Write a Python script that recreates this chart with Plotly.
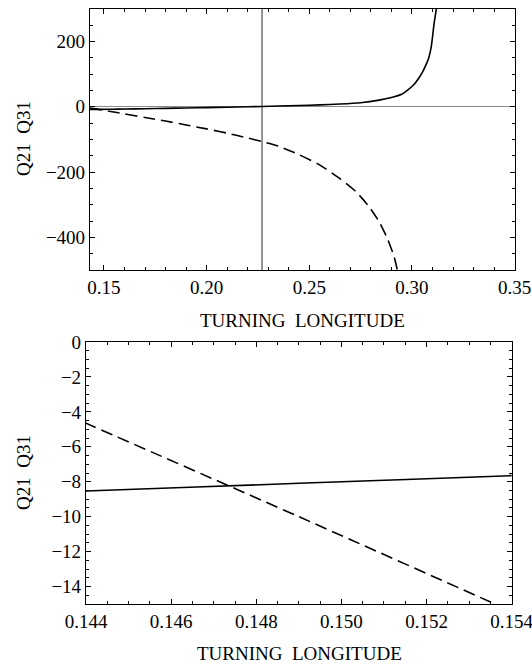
import plotly.graph_objects as go

# ---- data ----
x_q21 = [0.1432, 0.144, 0.149, 0.154, 0.16, 0.17, 0.18, 0.19, 0.20, 0.21, 0.22, 0.227,
         0.235, 0.245, 0.255, 0.265, 0.275, 0.284, 0.29, 0.295, 0.2985, 0.301, 0.3033,
         0.305, 0.3066, 0.3082, 0.3094, 0.3108, 0.3119, 0.3125]
q21 = [-8.6, -8.53, -8.09, -7.65, -7.1, -6.1, -5.1, -4.0, -2.8, -1.5, -0.2, 0.8,
       2.0, 3.6, 5.5, 8.0, 12.0, 20.0, 28.0, 38.0, 54.0, 68.0, 87.0,
       104.0, 125.0, 150.0, 183.0, 255.0, 300.0, 340.0]

x_q31 = [0.1432, 0.144, 0.149, 0.154, 0.16, 0.17, 0.18, 0.19, 0.20, 0.21, 0.22, 0.227,
         0.235, 0.245, 0.255, 0.2646, 0.2727, 0.2791, 0.284, 0.288, 0.2913, 0.2929, 0.294]
q31 = [-3.8, -4.65, -10.0, -15.43, -22.0, -33.0, -44.0, -56.0, -68.0, -81.0, -96.0, -107.0,
       -121.0, -147.0, -178.0, -219.0, -260.0, -306.0, -352.0, -403.0, -459.0, -500.0, -530.0]

marker_x = 0.227

top_xrange = [0.1432, 0.3502]
top_yrange = [-500, 300]
bot_xrange = [0.144, 0.154]
bot_yrange = [-15, 0]

x_title = "TURNING\u00a0\u00a0LONGITUDE"
y_title = "Q21\u00a0\u00a0Q31"

W, H = 532, 666
FONT = "Liberation Serif, Times New Roman, serif"

def px_x(p):
    return p / W

def px_y(p):
    return 1 - p / H

fig = go.Figure()

for xa, ya in (("x", "y"), ("x2", "y2")):
    fig.add_trace(go.Scatter(x=x_q21, y=q21, mode="lines", xaxis=xa, yaxis=ya,
                             line=dict(color="black", width=1.6, shape="spline", smoothing=0.6),
                             name="Q21", showlegend=False, hoverinfo="skip"))
    fig.add_trace(go.Scatter(x=x_q31, y=q31, mode="lines", xaxis=xa, yaxis=ya,
                             line=dict(color="black", width=1.6, dash="12px,6px",
                                       shape="spline", smoothing=0.6),
                             name="Q31", showlegend=False, hoverinfo="skip"))

def axis(domain, rng, dtick, minor_dtick, fmt, anchor, zeroline=False):
    return dict(
        domain=domain, range=rng, anchor=anchor, autorange=False,
        showgrid=False, zeroline=zeroline, zerolinecolor="#8a8a8a", zerolinewidth=1.2,
        showline=True, linecolor="black", linewidth=1.2, mirror="allticks",
        ticks="inside", ticklen=5, tickwidth=1, tickcolor="black",
        dtick=dtick, tick0=0, tickformat=fmt, ticklabeloverflow="allow",
        minor=dict(ticks="inside", ticklen=3, tickwidth=1, tickcolor="black",
                   dtick=minor_dtick, tick0=0, showgrid=False),
        tickfont=dict(family=FONT, size=19, color="black"),
        automargin=False, fixedrange=True,
    )

top_xd = [px_x(90), px_x(515)]
top_yd = [px_y(270), px_y(8.7)]
bot_xd = [px_x(86), px_x(511.7)]
bot_yd = [px_y(604), px_y(342)]

fig.update_layout(
    width=W, height=H,
    margin=dict(l=0, r=0, t=0, b=0),
    paper_bgcolor="white", plot_bgcolor="white",
    showlegend=False,
    xaxis=axis(top_xd, top_xrange, 0.05, 0.01, ".2f", "y"),
    yaxis=axis(top_yd, top_yrange, 200, 50, "d", "x", zeroline=True),
    xaxis2=axis(bot_xd, bot_xrange, 0.002, 0.0005, ".3f", "y2"),
    yaxis2=axis(bot_yd, bot_yrange, 2, 0.5, "d", "x2"),
)

fig.add_shape(type="line", xref="x", yref="y domain", x0=marker_x, x1=marker_x,
              y0=0, y1=1, line=dict(color="#7a7a7a", width=1.6), layer="below")

ann_font = dict(family=FONT, size=19, color="black")
fig.add_annotation(text=x_title, xref="paper", yref="paper", x=px_x(302.5), y=px_y(320),
                   xanchor="center", yanchor="middle", showarrow=False, font=ann_font)
fig.add_annotation(text=x_title, xref="paper", yref="paper", x=px_x(299), y=px_y(653),
                   xanchor="center", yanchor="middle", showarrow=False, font=ann_font)
fig.add_annotation(text=y_title, xref="paper", yref="paper", x=px_x(23), y=px_y(139),
                   xanchor="center", yanchor="middle", showarrow=False, font=ann_font,
                   textangle=-90)
fig.add_annotation(text=y_title, xref="paper", yref="paper", x=px_x(23), y=px_y(473),
                   xanchor="center", yanchor="middle", showarrow=False, font=ann_font,
                   textangle=-90)

# the page's default 8px body margin would push the 532x666 figure off the window
fig.write_html("out.html",
               config={"displayModeBar": False},
               post_script="document.body.style.margin='0px';document.body.style.overflow='hidden';")
